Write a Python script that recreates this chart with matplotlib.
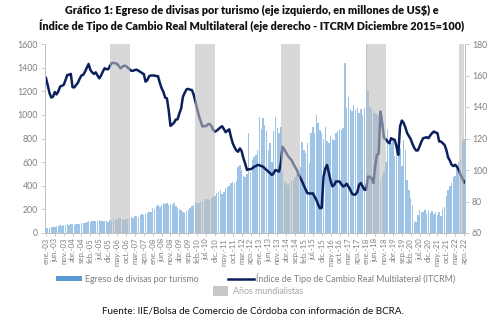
import matplotlib
matplotlib.use("Agg")
import matplotlib.pyplot as plt
from matplotlib.patches import Patch
from matplotlib.lines import Line2D
import numpy as np

# ---------------- data ----------------
years = list(range(2003, 2023))
month_abbr = ["ene.", "feb.", "mar.", "abr.", "may.", "jun.",
              "jul.", "ago.", "sep.", "oct.", "nov.", "dic."]

egreso_2003_2012 = [
    45, 40, 42, 48, 50, 55, 60, 62, 65, 62, 68, 70,
    72, 70, 75, 72, 68, 78, 80, 75, 82, 85, 88, 95,
    100, 92, 98, 105, 100, 102, 108, 104, 98, 100, 102, 96,
    110, 105, 115, 120, 112, 125, 130, 118, 112, 120, 115, 125,
    135, 130, 140, 145, 138, 150, 160, 155, 165, 170, 175, 180,
    210, 200, 225, 235, 220, 240, 255, 245, 250, 240, 245, 235,
    250, 230, 215, 205, 195, 175, 170, 185, 195, 210, 225, 240,
    265, 255, 250, 260, 270, 275, 290, 285, 280, 295, 305, 315,
    335, 345, 364, 330, 350, 380, 390, 400, 420, 430, 420, 440,
    560, 576, 530, 480, 477, 500, 844, 520, 620, 640, 660, 700,
]
egreso_2013_2022 = [
    985, 880, 975, 915, 860, 700, 760, 600, 860, 985, 890, 850,
    900, 520, 440, 420, 410, 420, 440, 450, 470, 500, 530, 560,
    773, 700, 675, 760, 590, 844, 900, 850, 1000, 929, 872, 844,
    800, 900, 780, 760, 820, 800, 790, 850, 860, 880, 870, 890,
    1437, 1060, 1150, 1050, 1030, 1080, 1040, 1060, 1020, 1050, 1000, 1060,
    1590, 1210, 1070, 1050, 1030, 1020, 1010, 1000, 450, 480, 520, 600,
    880, 780, 760, 800, 650, 700, 675, 720, 565, 790, 700, 450,
    360, 300, 240, 100, 96, 155, 195, 180, 175, 195, 165, 185,
    170, 190, 160, 175, 150, 180, 140, 200, 220, 310, 360, 400,
    420, 470, 480, 540, 600, 620, 790, 800,
]
egreso = egreso_2003_2012 + egreso_2013_2022

itcrm_2003_2012 = [
    158.5, 154, 149, 146, 146.5, 149.5, 148, 150, 153, 153.5, 154, 157,
    160.3, 160.5, 161, 152.5, 152.5, 154, 155.5, 158, 160, 160.5, 162.4, 165,
    167.3, 163.5, 162, 161, 162, 160, 158.2, 160, 162.5, 164.6, 164, 164,
    166, 168, 168, 167.8, 167.4, 166, 164.6, 165.5, 166.3, 166, 165, 164,
    163, 163, 163.5, 163.7, 163, 162.4, 161.5, 161, 156.1, 157, 159.6, 160,
    160, 160, 159.6, 159.6, 155.4, 152, 149.7, 146, 145.5, 138, 128, 129,
    130, 132, 132.2, 136, 139, 146.5, 149, 151.2, 151.5, 151, 150.8, 148,
    143.4, 139, 134.3, 131, 127.5, 128, 127.8, 129, 129.2, 128, 125.5, 124.3,
    125, 126, 127, 127.8, 126, 124, 125, 125.8, 121, 117, 114.4, 112.5,
    111.6, 113.7, 112, 107.4, 104, 100, 100.5, 100.5, 101, 102.1, 102.5, 103.2,
]
itcrm_2013_2022 = [
    103, 102.5, 102.1, 101, 100, 99, 98, 96.8, 98, 100, 99.5, 99,
    104.3, 114.8, 113, 111, 109, 107.5, 106.3, 104, 102, 100, 97, 95,
    92.6, 90, 87.5, 85.2, 85.2, 85, 85.2, 83, 81, 78, 75.7, 76,
    95.8, 101, 103.2, 98, 93, 89.6, 90.5, 92.7, 92.7, 92.7, 91, 89.6,
    90, 91.3, 89.5, 87.5, 85, 84.3, 84.5, 86, 90.6, 91.7, 89.5, 87.5,
    87.5, 95.9, 95.5, 94.9, 91.7, 102.2, 109.6, 110.3, 137.1, 129.7, 120.2, 119.5,
    118, 117, 120.2, 119.5, 119.2, 114.9, 109.6, 127.6, 131.4, 130, 127, 123.4,
    121.5, 119.6, 116.5, 114, 112.4, 112.4, 115, 118, 120.2, 120.5, 120.8, 120.2,
    122, 123.4, 124.4, 123.8, 123.4, 118.1, 118.1, 117, 116, 112.8, 108, 106,
    103.3, 102.5, 103.3, 102, 100, 97, 94.9, 92.1,
]
itcrm = itcrm_2003_2012 + itcrm_2013_2022

mundial_desde = ["ene.-06", "ene.-10", "ene.-14", "ene.-18", "may.-22"]
mundial_hasta = ["dic.-06", "dic.-10", "dic.-14", "dic.-18", "ago.-22"]

n = len(egreso)
labels = [f"{month_abbr[i % 12]}-{str(years[i // 12])[2:]}" for i in range(n)]
x = np.arange(n)

# ---------------- styling ----------------
plt.rcParams["font.family"] = ["Lato", "DejaVu Sans"]
bar_color = "#9DC3E6"
legend_bar_color = "#5B9BD5"
line_color = "#0B1F5C"
band_color = "#BFBFBF"
tick_color = "#7F7F7F"
spine_color = "#BFBFBF"

fig = plt.figure(figsize=(5.03, 3.21), dpi=100)
ax = fig.add_axes([45 / 503, 1 - 233 / 321, 420 / 503, 189 / 321])
ax2 = ax.twinx()

ax.bar(x, egreso, width=0.8, color=bar_color, linewidth=0, zorder=1)
ax.set_ylim(0, 1600)
ax.set_yticks(np.arange(0, 1601, 200))
ax.set_xlim(-0.5, n - 0.5)

ax2.plot(x, itcrm, color=line_color, linewidth=1.8, zorder=2,
         solid_joinstyle="round")
ax2.set_ylim(60, 180)
ax2.set_yticks(np.arange(60, 181, 20))
for d, h in zip(mundial_desde, mundial_hasta):
    ax2.axvspan(labels.index(d), labels.index(h), color=band_color,
                alpha=0.6, linewidth=0, zorder=3)

tick_pos = x[::5]
ax.set_xticks(tick_pos)
ax.set_xticklabels([labels[i] for i in tick_pos], rotation=90,
                   fontsize=5.6, color=tick_color)
ax.tick_params(axis="x", length=2, width=0.6, color=spine_color, pad=1.5)
ax.tick_params(axis="y", labelsize=6.3, colors=tick_color, length=3,
               width=0.6, pad=2)
ax2.tick_params(axis="y", labelsize=6.3, colors=tick_color, length=3,
                width=0.6, pad=2)
for a in (ax, ax2):
    a.spines["top"].set_visible(False)
    for s in ("left", "right", "bottom"):
        a.spines[s].set_color(spine_color)
        a.spines[s].set_linewidth(0.7)
ax.tick_params(axis="y", color=spine_color)
ax2.tick_params(axis="y", color=spine_color)

# ---------------- titles ----------------
fig.text(0.5, 1 - 10 / 321, "Gráfico 1: Egreso de divisas por turismo (eje izquierdo, en millones de US$) e",
         ha="center", va="center", fontsize=7.8, fontweight="heavy", color="#111111")
fig.text(0.5, 1 - 26 / 321, "Índice de Tipo de Cambio Real Multilateral (eje derecho - ITCRM Diciembre 2015=100)",
         ha="center", va="center", fontsize=7.8, fontweight="heavy", color="#111111")

# ---------------- legend ----------------
h1 = Patch(facecolor=legend_bar_color, edgecolor="none")
h2 = Line2D([0], [0], color=line_color, linewidth=1.8)
h3 = Patch(facecolor="#C8C8C8", edgecolor="none")
fig.legend([h1, h2], ["Egreso de divisas por turismo",
                      "Índice de Tipo de Cambio Real Multilateral (ITCRM)"],
           loc="center", bbox_to_anchor=(256 / 503, 43 / 321), ncol=2,
           frameon=False, fontsize=6.4, handlelength=2.9, handleheight=0.6,
           columnspacing=3.3, handletextpad=0.3, labelcolor=tick_color)
fig.legend([h3], ["Años mundialistas"], loc="center",
           bbox_to_anchor=(258 / 503, 30 / 321), frameon=False,
           fontsize=6.4, handlelength=1.7, handleheight=1.5,
           handletextpad=0.5, labelcolor="#A6A6A6")

fig.text(252.5 / 503, 10 / 321,
         "Fuente: IIE/Bolsa de Comercio de Córdoba con información de BCRA.",
         ha="center", va="center", fontsize=7.1, color="#111111")

fig.savefig("out.png", dpi=100)
